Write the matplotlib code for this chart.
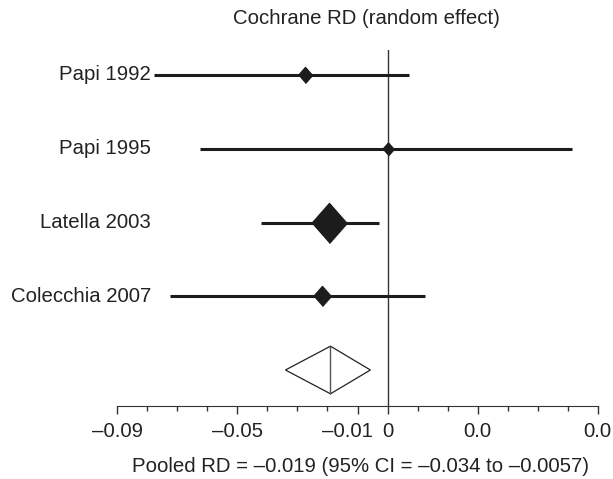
import matplotlib
matplotlib.use("Agg")
import matplotlib.pyplot as plt
import matplotlib.transforms as mtransforms
from matplotlib.ticker import MultipleLocator

# ------------------- DADOS -------------------
studies = ["Papi 1992", "Papi 1995", "Latella 2003", "Colecchia 2007"]
rd = [-0.0274, 0.0, -0.0194, -0.0219]
ci_lo = [-0.0777, -0.0624, -0.0422, -0.0725]
ci_hi = [0.0072, 0.0615, -0.0028, 0.0126]
box_px = [17, 14, 41, 21]  # altura do losango (px), proporcional ao peso

pooled_rd = -0.019
pooled_lo = -0.034
pooled_hi = -0.0057

tick_vals = [-0.09, -0.05, -0.01, 0, 0.03, 0.07]
tick_labels = ["\u20130.09", "\u20130.05", "\u20130.01", "0", "0.0", "0.0"]

title = "Cochrane RD (random effect)"
xlabel = "Pooled RD = \u20130.019 (95% CI = \u20130.034 to \u20130.0057)"

# ------------------- ESTILO -------------------
plt.rcParams["font.family"] = ["Liberation Sans", "DejaVu Sans"]
FS = 14.7
INK = "#1c1c1c"
TXT = "#222222"

W, H = 613, 479
fig = plt.figure(figsize=(W / 100, H / 100), dpi=100)

# eixo: x de -0.09 (px 117) a 0.07 (px 598), linha do eixo em y=406 px
left, right, top, bottom = 117.3, 597.7, 50, 405.7
ax = fig.add_axes([left / W, (H - bottom) / H, (right - left) / W, (bottom - top) / H])
ax.set_xlim(-0.09, 0.07)
row0, row_step = 75, 73.75
ax.set_ylim((bottom - row0) / row_step, (top - row0) / row_step)

# linha de nulidade
ax.axvline(0, color="#333333", lw=1.0, zorder=1)

# estudos
diamond = [(-0.88, 0), (0, 1), (0.88, 0), (0, -1)]
for i in range(len(studies)):
    ax.hlines(i, ci_lo[i], ci_hi[i], color=INK, lw=2.2, zorder=2)
    ax.plot(rd[i], i, marker=diamond, ms=(box_px[i] - 1) * 0.72, color=INK,
            mew=1.0, zorder=3)
    ax.text(-0.0787, i, studies[i], ha="right", va="center", fontsize=FS, color=TXT)

# losango do efeito combinado
yp = len(studies)
dh = 23.8 / row_step
ax.fill([pooled_lo, pooled_rd, pooled_hi, pooled_rd], [yp, yp - dh, yp, yp + dh],
        facecolor="white", edgecolor="#222222", lw=0.9, zorder=2)
ax.vlines(pooled_rd, yp - dh, yp + dh, color="#555555", lw=1.0, zorder=3)

# eixos
for s in ["left", "top", "right"]:
    ax.spines[s].set_visible(False)
ax.spines["bottom"].set_color("#333333")
ax.set_yticks([])
ax.set_xticks(tick_vals, tick_labels)
ax.xaxis.set_minor_locator(MultipleLocator(0.01))
ax.tick_params(axis="x", which="major", length=6, width=1, pad=6,
               labelsize=FS, colors="#333333", labelcolor=TXT)
ax.tick_params(axis="x", which="minor", length=3.5, width=1, colors="#333333")

# o rótulo -0.01 aparece deslocado para a esquerda no original
lab = ax.get_xticklabels()[2]
lab.set_transform(lab.get_transform() + mtransforms.ScaledTranslation(-0.10, 0, fig.dpi_scale_trans))

ax.set_xlabel(xlabel, fontsize=FS, color=TXT, va="center")
ax.xaxis.set_label_coords((361 - left) / (right - left), -(466 - bottom) / (bottom - top))

fig.text(366 / W, 1 - 18 / H, title, ha="center", va="center", fontsize=FS, color=TXT)

fig.savefig("out.png", dpi=100)
